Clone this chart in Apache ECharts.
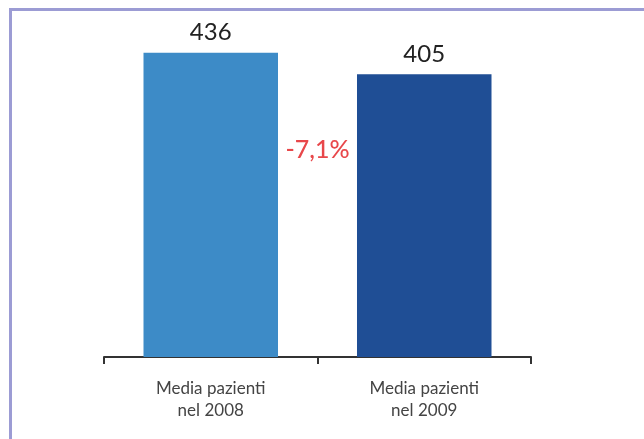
<!DOCTYPE html>
<html>
<head>
<meta charset="utf-8">
<script src="https://cdn.jsdelivr.net/npm/echarts@6/dist/echarts.min.js"></script>
<style>
  html, body { margin: 0; padding: 0; background: #fff; }
  .frame {
    position: absolute; left: 9px; top: 8px; right: 0; bottom: 0;
    border-left: 3px solid #9c9cd4; border-top: 3px solid #9c9cd4;
  }
  #chart { position: absolute; left: 0; top: 0; width: 644px; height: 439px; }
</style>
</head>
<body>
<div class="frame"></div>
<div id="chart"></div>
<script>
var categories = ["Media pazienti\nnel 2008", "Media pazienti\nnel 2009"];
var values = [436, 405];
var barColors = ["#3d8bc7", "#1f4e95"];

var chart = echarts.init(document.getElementById("chart"));

var change = (values[1] - values[0]) / values[0] * 100;
var changeLabel = change.toFixed(1).replace(".", ",") + "%";

var option = {
  animation: false,
  grid: { left: 104, right: 113, top: 8, bottom: 82 },
  xAxis: {
    type: "category",
    data: categories,
    axisLine: { lineStyle: { color: "#333", width: 2 } },
    axisTick: { show: true, length: 7, lineStyle: { color: "#333", width: 2 } },
    axisLabel: {
      color: "#444",
      fontSize: 17,
      lineHeight: 22,
      margin: 21,
      fontFamily: "Lato"
    }
  },
  yAxis: {
    type: "value",
    min: 0,
    max: 500,
    show: false,
    splitLine: { show: false }
  },
  series: [
    {
      type: "bar",
      barWidth: "63%",
      data: values.map(function (v, i) {
        return { value: v, itemStyle: { color: barColors[i] } };
      }),
      label: {
        show: true,
        position: "top",
        distance: 8,
        color: "#222",
        fontSize: 24,
        fontFamily: "Lato"
      }
    }
  ]
};
chart.setOption(option);

// testo della variazione, tra le due barre
var p0 = chart.convertToPixel({ gridIndex: 0 }, [0, 297]);
var p1 = chart.convertToPixel({ gridIndex: 0 }, [1, 297]);
chart.setOption({
  graphic: [
    {
      type: "text",
      x: (p0[0] + p1[0]) / 2,
      y: p0[1],
      style: {
        text: changeLabel,
        fill: "#e8474a",
        fontSize: 25,
        fontWeight: 500,
        fontFamily: "Lato",
        align: "center",
        verticalAlign: "middle"
      }
    }
  ]
});
</script>
</body>
</html>
